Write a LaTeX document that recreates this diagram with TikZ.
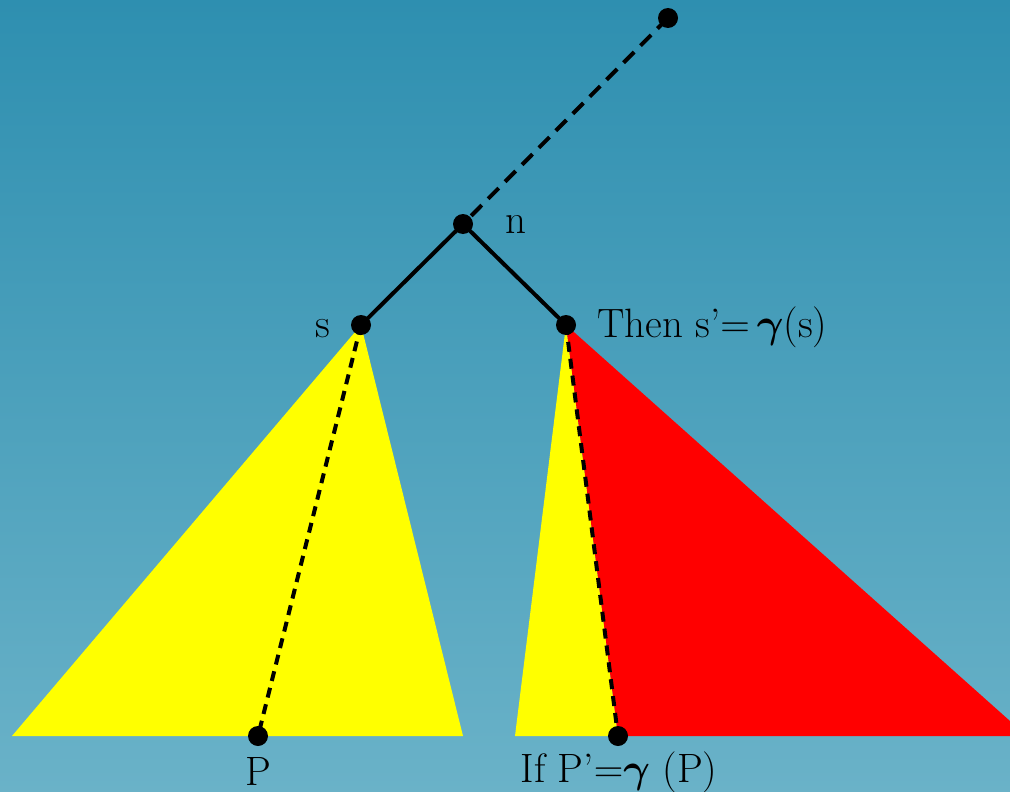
\RequirePackage{fix-cm}
\documentclass[tikz,border=0pt]{standalone}
\usepackage{bm}
\definecolor{bgtop}{RGB}{46,143,176}
\definecolor{bgbot}{RGB}{106,178,200}
\definecolor{yel}{RGB}{255,255,0}
\definecolor{redd}{RGB}{255,0,0}
\begin{document}
\begin{tikzpicture}[x=1pt,y=-1pt,
  dot/.style={circle,fill=black,inner sep=0pt,minimum size=20pt},
  edgeline/.style={line width=4pt,black},
  dashline/.style={line width=4pt,black,dash pattern=on 15pt off 9pt},
  dashshort/.style={line width=4pt,black,dash pattern=on 10pt off 7pt},
  lbl/.style={font=\fontsize{41}{48}\selectfont,inner sep=0pt,anchor=base}]
\useasboundingbox (0,0) rectangle (1010,792);
\shade[top color=bgtop,bottom color=bgbot] (0,0) rectangle (1010,792);
\coordinate (top) at (668,18);
\coordinate (n) at (463,224);
\coordinate (s) at (361,325);
\coordinate (sp) at (566,325);
\coordinate (P) at (258,736);
\coordinate (Pp) at (618,736);
\coordinate (L1) at (12,736);
\coordinate (L2) at (463,736);
\coordinate (R1) at (515,736);
\coordinate (R2) at (1010,736);
\coordinate (R3) at (1010,721);
% triangles
\fill[yel] (s) -- (L1) -- (L2) -- cycle;
\fill[yel] (sp) -- (R1) -- (Pp) -- cycle;
\fill[redd] (sp) -- (Pp) -- (R2) -- (R3) -- cycle;
% connectors
\draw[dashline] (top) -- (n);
\draw[edgeline] (n) -- (s);
\draw[edgeline] (n) -- (sp);
\draw[dashshort] (s) -- (P);
\draw[dashshort] (sp) -- (Pp);
% dots
\node[dot] (dtop) at (top) {};
\node[dot] (dn) at (n) {};
\node[dot] (ds) at (s) {};
\node[dot] (dsp) at (sp) {};
\node[dot] (dP) at (P) {};
\node[dot] (dPp) at (Pp) {};
% labels
\node[lbl,anchor=base west] (ln) at (505,233) {n};
\node[lbl,anchor=base east] (ls) at (330,337) {s};
\node[lbl,anchor=base west] (lsp) at (597,337) {Then s’${=}\,\bm{\gamma}$(s)};
\node[lbl] (lP) at (258,785) {P};
\node[lbl] (lPp) at (619,782) {If P’${=}\bm{\gamma}$ (P)};
\end{tikzpicture}
\end{document}
